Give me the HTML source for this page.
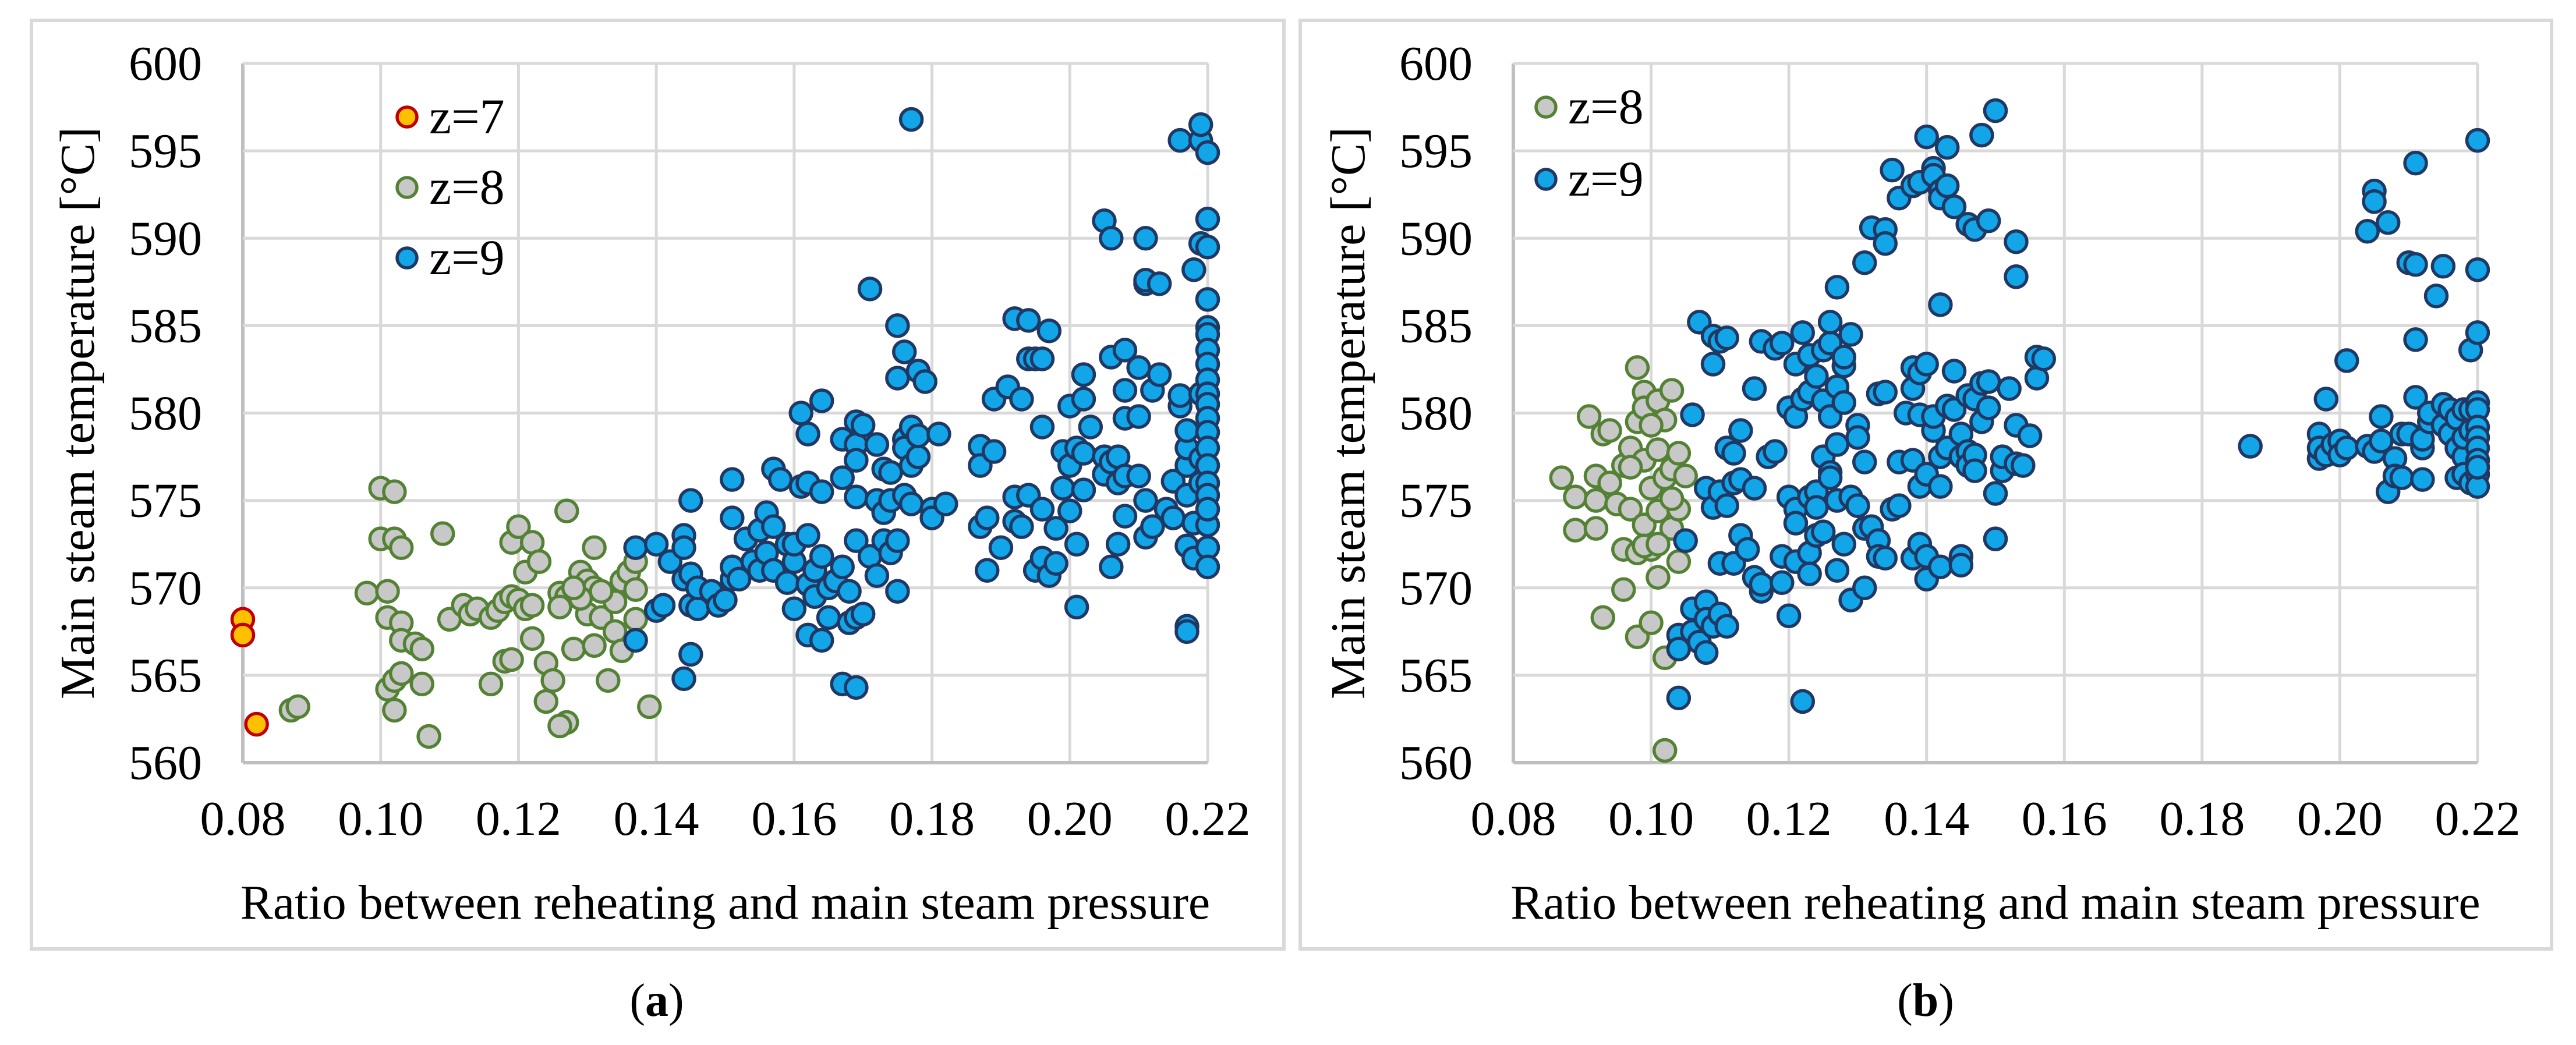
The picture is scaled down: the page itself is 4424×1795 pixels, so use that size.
<!DOCTYPE html>
<html><head><meta charset="utf-8"><style>
html,body{margin:0;padding:0;background:#fff;width:4424px;height:1795px;overflow:hidden}
svg{display:block}
text{font-family:"Liberation Serif",serif;fill:#000}
</style></head><body>
<svg id="svg" width="4424" height="1795" viewBox="0 0 4424 1795" xmlns="http://www.w3.org/2000/svg"></svg>
<script>
const xTicks=[0.08,0.10,0.12,0.14,0.16,0.18,0.20,0.22];
const yTicks=[560,565,570,575,580,585,590,595,600];
const aZ7=[[0.080,568.2],[0.080,567.3],[0.082,562.2]];
const aZ8=[[0.087,563.0],[0.088,563.2],[0.098,569.7],[0.100,575.7],[0.102,575.5],[0.100,572.8],[0.102,572.8],[0.103,572.3],[0.101,569.8],[0.101,568.3],[0.103,568.0],[0.103,567.0],[0.105,566.8],[0.106,566.5],[0.101,564.2],[0.102,564.7],[0.103,565.1],[0.106,564.5],[0.102,563.0],[0.107,561.5],[0.109,573.1],[0.110,568.2],[0.112,569.0],[0.113,568.5],[0.114,568.8],[0.116,568.3],[0.117,568.7],[0.118,569.2],[0.119,569.5],[0.120,569.3],[0.121,568.8],[0.119,572.6],[0.120,573.5],[0.122,572.6],[0.121,570.9],[0.123,571.5],[0.122,569.0],[0.118,565.8],[0.119,565.9],[0.116,564.5],[0.122,567.1],[0.124,565.7],[0.125,564.7],[0.124,563.5],[0.126,569.7],[0.127,569.5],[0.126,568.9],[0.127,562.3],[0.126,562.1],[0.127,574.4],[0.128,566.5],[0.129,570.9],[0.130,570.4],[0.131,570.0],[0.130,568.5],[0.131,566.7],[0.131,572.3],[0.132,568.3],[0.133,564.7],[0.134,569.2],[0.134,567.5],[0.135,570.4],[0.135,566.4],[0.136,570.9],[0.137,571.5],[0.137,569.9],[0.137,568.2],[0.139,563.2],[0.132,569.8],[0.129,569.4],[0.128,570.0]];
const aZ9=[[0.137,572.3],[0.137,567.0],[0.140,568.7],[0.141,569.0],[0.140,572.5],[0.142,571.5],[0.144,573.0],[0.145,575.0],[0.144,572.3],[0.144,570.5],[0.145,570.8],[0.145,569.0],[0.146,568.8],[0.146,570.0],[0.145,566.2],[0.144,564.8],[0.148,569.8],[0.149,569.0],[0.150,569.3],[0.151,570.5],[0.151,571.2],[0.152,570.5],[0.151,574.0],[0.151,576.2],[0.153,572.8],[0.154,571.5],[0.155,571.0],[0.155,573.3],[0.156,574.3],[0.156,572.0],[0.157,576.8],[0.157,573.5],[0.157,571.0],[0.158,576.2],[0.159,572.5],[0.159,570.3],[0.160,571.5],[0.160,568.8],[0.160,572.5],[0.161,575.8],[0.161,580.0],[0.162,578.8],[0.162,576.0],[0.162,573.0],[0.162,570.2],[0.162,567.3],[0.163,569.5],[0.163,571.0],[0.164,580.7],[0.164,575.5],[0.164,571.8],[0.164,567.0],[0.165,570.0],[0.165,568.3],[0.166,570.4],[0.167,578.5],[0.167,576.3],[0.167,571.2],[0.167,564.5],[0.168,569.8],[0.168,568.0],[0.169,579.5],[0.169,578.2],[0.169,577.3],[0.169,575.2],[0.169,572.7],[0.169,568.3],[0.169,564.3],[0.170,579.3],[0.170,568.5],[0.171,587.1],[0.171,571.8],[0.172,578.2],[0.172,575.0],[0.172,570.7],[0.173,576.8],[0.173,574.3],[0.173,572.7],[0.174,576.6],[0.174,575.0],[0.174,572.0],[0.175,582.0],[0.175,585.0],[0.175,572.7],[0.175,569.8],[0.176,583.5],[0.176,578.5],[0.176,578.0],[0.176,575.3],[0.177,579.2],[0.177,577.0],[0.177,574.8],[0.177,596.8],[0.178,577.5],[0.178,582.4],[0.179,581.8],[0.178,578.7],[0.180,574.5],[0.180,574.0],[0.181,578.8],[0.182,574.8],[0.187,578.1],[0.187,577.0],[0.187,573.5],[0.188,571.0],[0.188,574.0],[0.189,577.8],[0.189,580.8],[0.190,572.3],[0.191,581.5],[0.192,575.2],[0.192,573.8],[0.192,585.4],[0.193,580.8],[0.193,573.5],[0.194,583.1],[0.194,575.3],[0.194,585.3],[0.195,583.1],[0.195,571.0],[0.196,571.7],[0.196,574.5],[0.196,579.2],[0.196,583.1],[0.197,584.7],[0.197,570.7],[0.198,573.4],[0.198,571.4],[0.199,577.8],[0.199,575.7],[0.200,577.0],[0.200,574.4],[0.200,580.4],[0.201,572.5],[0.201,568.9],[0.201,578.0],[0.202,580.8],[0.202,582.2],[0.202,575.6],[0.202,577.7],[0.203,579.2],[0.205,591.0],[0.205,577.5],[0.205,576.5],[0.206,590.0],[0.206,583.2],[0.206,577.2],[0.206,571.2],[0.207,577.5],[0.207,576.0],[0.207,572.5],[0.208,583.6],[0.208,581.3],[0.208,579.7],[0.208,576.4],[0.208,574.1],[0.210,582.6],[0.210,579.8],[0.210,576.4],[0.211,587.4],[0.211,587.6],[0.211,590.0],[0.211,575.0],[0.211,572.9],[0.212,573.5],[0.212,581.3],[0.213,582.2],[0.213,587.4],[0.214,574.5],[0.215,576.1],[0.215,574.0],[0.216,580.4],[0.216,581.0],[0.216,595.6],[0.217,577.0],[0.217,578.0],[0.217,567.8],[0.217,567.5],[0.217,579.0],[0.217,575.3],[0.217,572.4],[0.218,573.7],[0.218,588.2],[0.218,571.7],[0.219,595.6],[0.219,589.7],[0.219,581.1],[0.219,576.0],[0.219,577.4],[0.219,596.5],[0.220,594.9],[0.220,591.1],[0.220,589.5],[0.220,586.5],[0.220,584.9],[0.220,584.5],[0.220,583.6],[0.220,582.8],[0.220,581.9],[0.220,581.1],[0.220,580.5],[0.220,579.7],[0.220,578.9],[0.220,578.0],[0.220,577.0],[0.220,576.0],[0.220,575.3],[0.220,573.6],[0.220,572.3],[0.220,571.2],[0.220,574.5]];
const bZ8=[[0.087,576.3],[0.089,575.2],[0.089,573.3],[0.091,579.8],[0.092,576.4],[0.092,573.4],[0.092,575.0],[0.093,578.8],[0.093,568.3],[0.094,576.0],[0.094,579.0],[0.095,574.8],[0.096,572.2],[0.096,569.9],[0.096,577.0],[0.097,578.0],[0.097,574.5],[0.098,567.2],[0.098,582.6],[0.098,579.5],[0.098,572.0],[0.099,581.2],[0.099,580.3],[0.099,573.6],[0.099,577.3],[0.100,572.2],[0.100,575.7],[0.100,568.0],[0.101,580.7],[0.101,577.9],[0.101,574.4],[0.101,570.6],[0.102,576.3],[0.102,566.0],[0.102,560.7],[0.102,579.6],[0.103,581.3],[0.103,573.4],[0.103,576.8],[0.104,574.5],[0.104,571.5],[0.104,577.7],[0.105,576.4],[0.100,579.3],[0.097,576.9],[0.099,572.4],[0.101,572.5],[0.103,575.1]];
const bZ9=[[0.104,563.7],[0.104,567.3],[0.104,566.5],[0.105,572.7],[0.106,579.9],[0.106,568.8],[0.106,567.5],[0.107,585.2],[0.107,566.9],[0.108,569.2],[0.108,566.3],[0.108,568.2],[0.108,575.7],[0.109,584.4],[0.109,574.6],[0.109,582.8],[0.109,567.8],[0.110,584.1],[0.110,568.5],[0.110,575.5],[0.110,571.4],[0.111,574.7],[0.111,578.0],[0.111,584.3],[0.111,567.8],[0.112,577.7],[0.112,571.4],[0.112,576.0],[0.113,579.0],[0.113,573.0],[0.113,576.2],[0.114,572.2],[0.115,575.7],[0.115,570.6],[0.115,581.4],[0.116,584.1],[0.116,569.8],[0.116,570.2],[0.117,577.5],[0.118,583.7],[0.118,577.8],[0.119,570.3],[0.119,584.0],[0.119,571.8],[0.120,580.3],[0.120,575.2],[0.120,568.4],[0.121,582.8],[0.121,579.8],[0.121,574.5],[0.121,573.7],[0.121,571.5],[0.122,584.6],[0.122,580.8],[0.122,563.5],[0.123,575.2],[0.123,572.0],[0.123,570.8],[0.123,581.2],[0.123,583.3],[0.124,575.5],[0.124,573.0],[0.124,574.6],[0.124,582.1],[0.125,580.7],[0.125,577.5],[0.125,573.2],[0.125,583.6],[0.126,579.8],[0.126,576.6],[0.126,584.0],[0.126,585.2],[0.126,576.3],[0.127,587.2],[0.127,581.5],[0.127,578.2],[0.127,575.0],[0.127,571.0],[0.128,582.7],[0.128,583.2],[0.128,572.5],[0.128,580.6],[0.129,584.5],[0.129,575.2],[0.129,569.3],[0.130,579.3],[0.130,578.6],[0.130,574.7],[0.131,588.6],[0.131,577.2],[0.131,573.4],[0.131,570.0],[0.132,590.6],[0.132,573.5],[0.133,581.1],[0.133,572.7],[0.133,571.8],[0.134,590.5],[0.134,589.7],[0.134,581.2],[0.134,571.7],[0.135,593.9],[0.135,574.5],[0.136,592.3],[0.136,577.2],[0.136,574.7],[0.137,580.0],[0.138,593.0],[0.138,582.6],[0.138,581.4],[0.138,577.3],[0.138,571.7],[0.139,593.2],[0.139,582.3],[0.139,579.9],[0.139,575.8],[0.139,572.5],[0.140,595.8],[0.140,582.8],[0.140,576.5],[0.140,571.8],[0.140,570.5],[0.141,594.0],[0.141,579.0],[0.141,579.8],[0.141,593.6],[0.142,592.7],[0.142,592.3],[0.142,586.2],[0.142,575.8],[0.142,577.5],[0.142,571.2],[0.143,595.2],[0.143,593.0],[0.143,580.4],[0.143,578.0],[0.144,591.8],[0.144,582.4],[0.144,580.2],[0.145,578.8],[0.145,577.5],[0.145,571.8],[0.145,571.3],[0.146,581.0],[0.146,577.8],[0.146,577.0],[0.146,590.8],[0.147,590.5],[0.147,580.8],[0.147,577.6],[0.147,576.7],[0.148,595.9],[0.148,579.5],[0.148,581.7],[0.149,591.0],[0.149,580.3],[0.149,581.8],[0.150,597.3],[0.150,575.4],[0.150,572.8],[0.151,576.7],[0.151,577.5],[0.152,581.4],[0.153,589.8],[0.153,587.8],[0.153,579.3],[0.153,577.1],[0.154,577.0],[0.155,578.7],[0.156,582.0],[0.156,583.2],[0.157,583.1],[0.187,578.1],[0.197,577.4],[0.197,578.8],[0.197,578.0],[0.198,580.8],[0.198,577.6],[0.199,578.2],[0.200,578.4],[0.200,577.6],[0.201,578.0],[0.201,583.0],[0.204,590.4],[0.204,578.1],[0.205,592.7],[0.205,592.1],[0.205,577.8],[0.206,579.8],[0.206,578.4],[0.207,590.9],[0.207,575.5],[0.208,577.4],[0.208,576.4],[0.209,578.8],[0.209,576.3],[0.210,588.6],[0.210,578.8],[0.211,594.3],[0.211,588.5],[0.211,580.9],[0.211,584.2],[0.212,578.0],[0.212,576.2],[0.212,578.5],[0.213,579.5],[0.213,580.0],[0.214,586.7],[0.215,588.4],[0.215,580.5],[0.215,579.3],[0.216,580.2],[0.216,578.8],[0.217,576.3],[0.217,579.7],[0.217,578.0],[0.218,580.2],[0.218,577.5],[0.218,576.5],[0.218,578.6],[0.219,583.6],[0.219,580.2],[0.219,579.0],[0.219,576.0],[0.220,595.6],[0.220,588.2],[0.220,584.6],[0.220,580.6],[0.220,580.2],[0.220,579.2],[0.220,578.6],[0.220,578.0],[0.220,577.3],[0.220,576.5],[0.220,575.8],[0.220,576.9]];

const NS="http://www.w3.org/2000/svg";
const svg=document.getElementById('svg');
function mk(tag,attrs,parent){const e=document.createElementNS(NS,tag);for(const k in attrs)e.setAttribute(k,attrs[k]);(parent||svg).appendChild(e);return e;}
const STY={z7:{fill:'#ffc000',stroke:'#c00000'},z8:{fill:'#c8c8c8',stroke:'#548235'},z9:{fill:'#12a5e8',stroke:'#1f3864'}};

function panel(id,box,plot,series,legend,letter,letterX){
  const g=mk('g',{});
  
  
  const fr=mk('rect',{x:box[0],y:box[1],width:box[2]-box[0],height:box[3]-box[1],fill:'none',stroke:'#d9d9d9','stroke-width':6},g);
  
  
  const [x0,x1,yTop,yBot]=plot;
  const sx=v=>x0+(v-0.08)/(0.22-0.08)*(x1-x0);
  const sy=v=>yBot-(v-560)/(600-560)*(yBot-yTop);
  xTicks.forEach(t=>{
    const l=mk('line',{x1:sx(t),x2:sx(t),y1:yTop,y2:yBot,stroke:t===0.08?'#bfbfbf':'#d9d9d9','stroke-width':t===0.08?6:5},g);
    
    
    const tx=mk('text',{x:sx(t),y:yBot+124,'text-anchor':'middle','font-size':84},g);
    tx.textContent=t.toFixed(2);
    
    
  });
  yTicks.forEach(t=>{
    const l=mk('line',{x1:x0,x2:x1,y1:sy(t),y2:sy(t),stroke:t===560?'#bfbfbf':'#d9d9d9','stroke-width':t===560?6:5},g);
    
    
    const tx=mk('text',{x:x0-70,y:sy(t)+28,'text-anchor':'end','font-size':84},g);
    tx.textContent=t;
    
    
  });
  series.forEach(([data,key])=>{
    data.forEach(p=>{
      const c=mk('circle',{cx:sx(p[0]),cy:sy(p[1]),r:18.5,fill:STY[key].fill,stroke:STY[key].stroke,'stroke-width':5.5},g);
      
      
    });
  });
  legend.forEach(([key,lx,ly,label])=>{
    const c=mk('circle',{cx:lx,cy:ly,r:17,fill:STY[key].fill,stroke:STY[key].stroke,'stroke-width':5.5},g);
    
    
    const t=mk('text',{x:lx+38,y:ly+28,'font-size':86},g);
    t.textContent=label;
    
    
  });
  const xt=mk('text',{x:(x0+x1)/2,y:yBot+268,'text-anchor':'middle','font-size':84},g);
  xt.textContent='Ratio between reheating and main steam pressure';
  
  
  const ytx=x0-256, yty=(yTop+yBot)/2;
  const yt=mk('text',{x:ytx,y:yty,'text-anchor':'middle','font-size':84,transform:`rotate(-90 ${ytx} ${yty})`},g);
  yt.textContent='Main steam temperature [°C]';
  
  
  const lt=mk('text',{x:letterX,y:1745,'text-anchor':'middle','font-size':80},g);
  lt.innerHTML='(<tspan font-weight="bold">'+letter+'</tspan>)';
  
  
}
panel('chart-a',[54,35,2205,1630],[417,2074,109,1310],[[aZ8,'z8'],[aZ9,'z9'],[aZ7,'z7']],[['z7',699,201,'z=7'],['z8',699,322,'z=8'],['z9',699,443,'z=9']],'a',1128);
panel('chart-b',[2233,35,4382,1630],[2599,4255,109,1310],[[bZ8,'z8'],[bZ9,'z9']],[['z8',2655,184,'z=8'],['z9',2655,308,'z=9']],'b',3307);
</script>
</body></html>
